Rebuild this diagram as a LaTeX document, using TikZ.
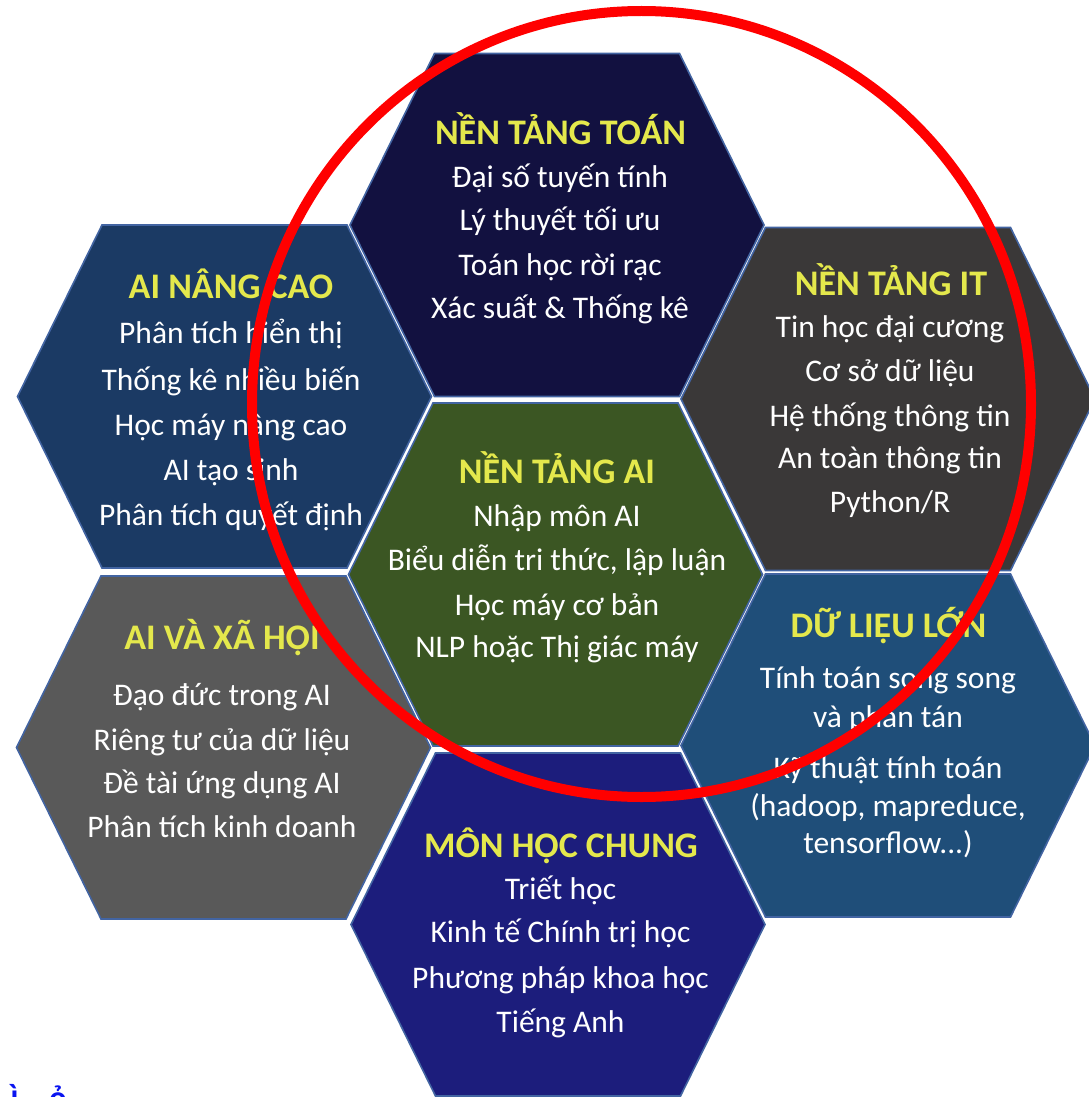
\documentclass[tikz,border=0pt]{standalone}
\usepackage{fontspec}
\setmainfont{Carlito}
\definecolor{cTop}{RGB}{18,17,64}
\definecolor{cMid}{RGB}{59,86,35}
\definecolor{cBot}{RGB}{28,29,124}
\definecolor{cLU}{RGB}{27,58,100}
\definecolor{cLL}{RGB}{89,89,89}
\definecolor{cRU}{RGB}{58,56,56}
\definecolor{cRL}{RGB}{31,78,121}
\definecolor{hexline}{RGB}{66,100,162}
\definecolor{ttl}{RGB}{228,232,76}
\definecolor{ringred}{RGB}{255,0,0}
\definecolor{noteblue}{RGB}{10,20,240}
\tikzset{
  hexa/.pic={\path[pic actions] (-207,0) -- (-122.5,-171.5) -- (122.5,-171.5) -- (207,0) -- (122.5,171.5) -- (-122.5,171.5) -- cycle;},
  hexst/.style={draw=hexline, line width=1.6pt},
  ttlst/.style={anchor=base, inner sep=0pt, text=ttl, font=\fontsize{36}{42}\selectfont\bfseries},
  bodyst/.style={anchor=base, inner sep=0pt, text=white, font=\fontsize{31.5}{38}\selectfont},
  notest/.style={anchor=base, inner sep=0pt, text=noteblue, font=\fontsize{32}{38}\selectfont\bfseries}
}
\begin{document}
\begin{tikzpicture}[x=1pt,y=-1pt]
\useasboundingbox (0,0) rectangle (1088,1097);
% hexagons
\pic[hexst, fill=cTop] (hT) at (557,225) {hexa};
\pic[hexst, fill=cMid] (hC) at (555.5,574.5) {hexa};
\pic[hexst, fill=cBot] (hB) at (558,924.5) {hexa};
\pic[hexst, fill=cLU] (hLU) at (224.5,396.5) {hexa};
\pic[hexst, fill=cLL] (hLL) at (223.5,747.5) {hexa};
\pic[hexst, fill=cRU] (hRU) at (888,399) {hexa};
\pic[hexst, fill=cRL] (hRL) at (888,745.5) {hexa};
% top
\node[ttlst] (t0) at (560.5,144) {NỀN TẢNG TOÁN};
\node[bodyst] (t1) at (560,187) {Đại số tuyến tính};
\node[bodyst] (t2) at (560,230) {Lý thuyết tối ưu};
\node[bodyst] (t3) at (560,275) {Toán học rời rạc};
\node[bodyst] (t4) at (560,318) {Xác suất \& Thống kê};
% left upper
\node[ttlst] (lu0) at (231,298) {AI NÂNG CAO};
\node[bodyst] (lu1) at (231,343) {Phân tích hiển thị};
\node[bodyst] (lu2) at (231,390) {Thống kê nhiều biến};
\node[bodyst] (lu3) at (231,435) {Học máy nâng cao};
\node[bodyst] (lu4) at (231,480) {AI tạo sinh};
\node[bodyst] (lu5) at (231,525) {Phân tích quyết định};
% right upper
\node[ttlst] (ru0) at (891,295) {NỀN TẢNG IT};
\node[bodyst] (ru1) at (890,337) {Tin học đại cương};
\node[bodyst] (ru2) at (890,381) {Cơ sở dữ liệu};
\node[bodyst] (ru3) at (890,426) {Hệ thống thông tin};
\node[bodyst] (ru4) at (890,468) {An toàn thông tin};
\node[bodyst] (ru5) at (890,512) {Python/R};
% centre
\node[ttlst] (c0) at (557,483) {NỀN TẢNG AI};
\node[bodyst] (c1) at (557,526) {Nhập môn AI};
\node[bodyst] (c2) at (557,570) {Biểu diễn tri thức, lập luận};
\node[bodyst] (c3) at (557,615) {Học máy cơ bản};
\node[bodyst] (c4) at (557,657) {NLP hoặc Thị giác máy};
% left lower
\node[ttlst] (ll0) at (222,649) {AI VÀ XÃ HỘI};
\node[bodyst] (ll1) at (222,705) {Đạo đức trong AI};
\node[bodyst] (ll2) at (222,750) {Riêng tư của dữ liệu};
\node[bodyst] (ll3) at (222,793) {Đề tài ứng dụng AI};
\node[bodyst] (ll4) at (222,837) {Phân tích kinh doanh};
% right lower
\node[ttlst] (rl0) at (888.5,637) {DỮ LIỆU LỚN};
\node[bodyst] (rl1) at (888,688) {Tính toán song song};
\node[bodyst] (rl2) at (888,727) {và phân tán};
\node[bodyst] (rl3) at (888,778) {Kỹ thuật tính toán};
\node[bodyst] (rl4) at (888,816) {(hadoop, mapreduce,};
\node[bodyst] (rl5) at (888,853) {tensorflow...)};
% bottom
\node[ttlst] (b0) at (561,857) {MÔN HỌC CHUNG};
\node[bodyst] (b1) at (560.5,899) {Triết học};
\node[bodyst] (b2) at (560.5,942) {Kinh tế Chính trị học};
\node[bodyst] (b3) at (560.5,988) {Phương pháp khoa học};
\node[bodyst] (b4) at (560.5,1032) {Tiếng Anh};
% red ring
\draw[ringred, line width=10pt] (641.5,404) ellipse [x radius=389.5, y radius=393];
% cut-off note at the bottom left (cut by the page edge, as in the reference)
\node[notest] (n1) at (14.5,1106) {ì};
\node[notest] (n2) at (58,1108) {ỏ};
\end{tikzpicture}
\end{document}
